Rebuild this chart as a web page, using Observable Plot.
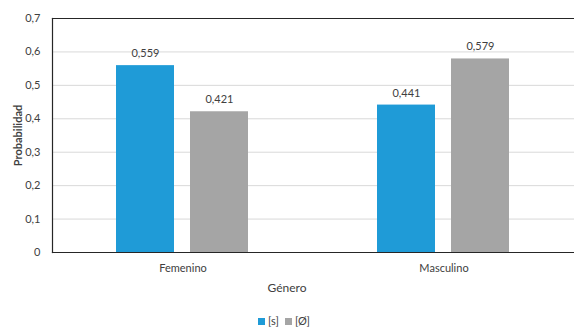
<!DOCTYPE html>
<html><head><meta charset="utf-8">
<script src="https://cdn.jsdelivr.net/npm/d3@7"></script>
<script src="https://cdn.jsdelivr.net/npm/@observablehq/plot@0.6"></script>
<style>
body{margin:0;background:#fff;font-family:Lato,"Open Sans",sans-serif;color:#404040;overflow:hidden}
#xlabel{width:574px;text-align:center;font-size:12px;line-height:14px;margin-top:3px;color:#404040}
#legend{width:574px;text-align:center;font-size:11px;line-height:14px;margin-top:18px;color:#404040}
#legend span.sw{display:inline-block;width:7px;height:7px;margin-right:3px;vertical-align:middle}
#legend span.it{margin-right:6px;vertical-align:middle}
</style></head>
<body>
<div id="chart"></div>
<div id="xlabel">Género</div>
<div id="legend"></div>
<script>
const genders = ["Femenino", "Masculino"];
const series = ["[s]", "[Ø]"];
const sValues = [0.559, 0.441];
const oValues = [0.421, 0.579];
const yTicks = [0, 0.1, 0.2, 0.3, 0.4, 0.5, 0.6, 0.7];
const colors = ["#1f9bd7", "#a5a5a5"];

const data = [];
genders.forEach((g, i) => {
  data.push({gender: g, series: series[0], value: sValues[i]});
  data.push({gender: g, series: series[1], value: oValues[i]});
});
const fmt = v => String(v).replace(".", ",");

const plot = Plot.plot({
  width: 574, height: 278,
  marginTop: 18, marginBottom: 26, marginLeft: 52, marginRight: 0,
  style: {fontFamily: "Lato, 'Open Sans', sans-serif", fontSize: "11px", color: "#404040", background: "#fff"},
  fx: {domain: genders, padding: 0, label: null},
  x: {domain: series, paddingInner: 0.213, paddingOuter: 0.853, axis: null},
  y: {domain: [0, 0.7]},
  color: {domain: series, range: colors},
  marks: [
    Plot.gridY(yTicks, {stroke: "#d9d9d9", strokeOpacity: 1}),
    Plot.barY(data, {fx: "gender", x: "series", y: "value", fill: "series"}),
    Plot.text(data, {fx: "gender", x: "series", y: "value", text: d => fmt(d.value), dy: -12, fill: "#404040", fontSize: 11}),
    Plot.axisY(yTicks, {tickFormat: fmt, tickSize: 0, tickPadding: 12, fontSize: 11, label: "Probabilidad", labelAnchor: "center", labelOffset: 38, labelArrow: "none", fontWeight: "normal"}),
    Plot.axisFx({anchor: "bottom", tickSize: 0, tickPadding: 12, fontSize: 11, label: null}),
    Plot.frame({anchor: "top", facet: "super", stroke: "#262626", strokeWidth: 1.2}),
    Plot.frame({anchor: "bottom", facet: "super", stroke: "#262626", strokeWidth: 1.2}),
    Plot.frame({anchor: "left", facet: "super", stroke: "#262626", strokeWidth: 1.2})
  ]
});
document.getElementById("chart").appendChild(plot);
// bold the y-axis label
d3.select(plot).selectAll("[aria-label='y-axis label'] text").attr("font-weight", "bold");

const lg = document.getElementById("legend");
series.forEach((s, i) => {
  const sw = document.createElement("span"); sw.className = "sw"; sw.style.background = colors[i];
  const t = document.createElement("span"); t.className = "it"; t.textContent = s;
  lg.appendChild(sw); lg.appendChild(t);
});
</script>
</body></html>
